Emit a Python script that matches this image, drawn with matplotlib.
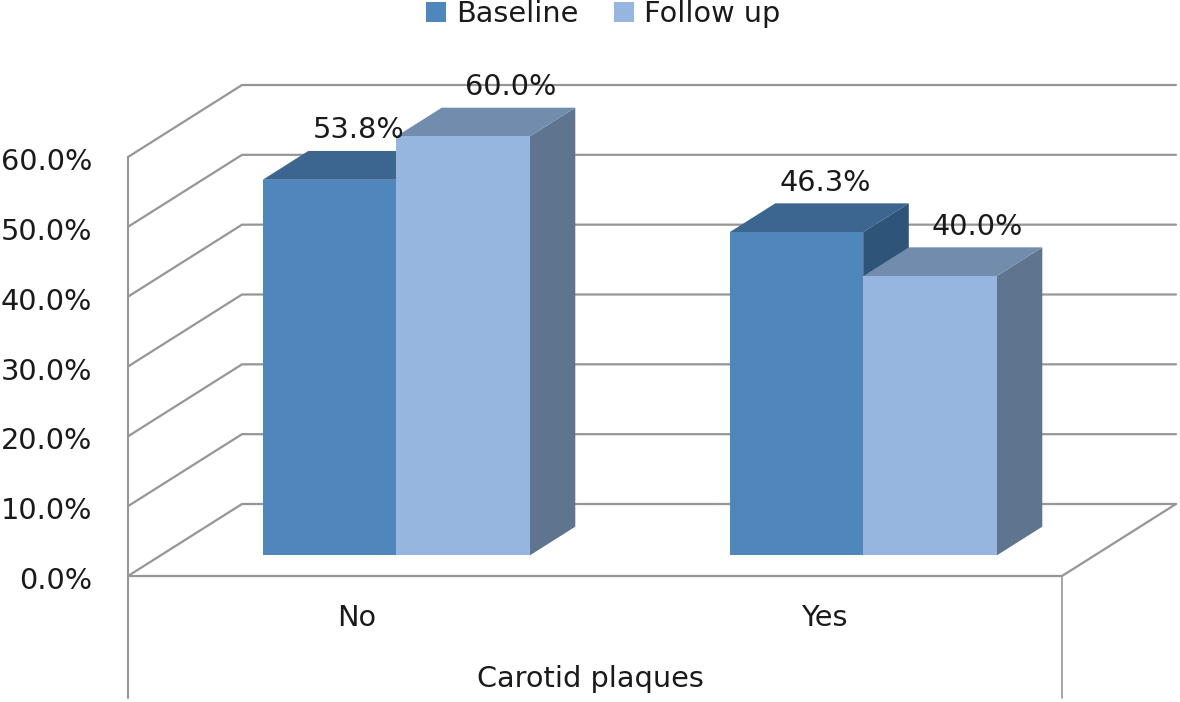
import matplotlib
matplotlib.use("Agg")
import matplotlib.pyplot as plt
from matplotlib.patches import Polygon, Patch
from matplotlib.transforms import ScaledTranslation

categories = ["No", "Yes"]
series_names = ["Baseline", "Follow up"]
baseline = [53.8, 46.3]
follow_up = [60.0, 40.0]
y_ticks = [0, 10, 20, 30, 40, 50, 60]
x_label = "Carotid plaques"

W, H = 1180, 702
GRID = "#969696"
TXT = "#1a1a1a"
FS = 20.7

# plot box in pixels
L, R, T, B = 128, 1062, 157, 576
fig = plt.figure(figsize=(W / 100, H / 100), dpi=100)
ax = fig.add_axes([L / W, 1 - B / H, (R - L) / W, (B - T) / H])
ax.set_xlim(-0.5, 1.5)
ax.set_ylim(0, 60)
for s in ax.spines.values():
    s.set_visible(False)
ax.patch.set_visible(False)

ux = (R - L) / 2          # px per category
uy = (B - T) / 60         # px per percent
DX = 114 / ux             # wall depth in data units
DY = 72 / uy
BAR_W = 133.5 / ux
BAR_SHIFT = 2.2 / ux
DEPTH_START = 0.285
DEPTH = 0.40

def line(xs, ys, lw=1.6, z=1):
    ax.plot(xs, ys, color=GRID, lw=lw, clip_on=False, zorder=z, solid_capstyle="round")

# walls and gridlines
for v in y_ticks:
    line([-0.5, -0.5 + DX, 1.5 + DX], [v, v + DY, v + DY])
line([-0.5, 1.5, 1.5 + DX], [0, 0, DY])
ext = -(698 - B) / uy
line([-0.5, -0.5], [ext, 60], lw=1.5)
line([1.5, 1.5], [ext, 0], lw=1.2)

def bar3d(x0, v, front, top, side, z):
    bx = DEPTH_START * DX
    by = DEPTH_START * DY
    dx = DEPTH * DX
    dy = DEPTH * DY
    x1 = x0 + BAR_W
    y0 = by
    y1 = by + v
    x0b, x1b = x0 + bx, x1 + bx
    ax.add_patch(Polygon([(x1b, y0), (x1b + dx, y0 + dy), (x1b + dx, y1 + dy), (x1b, y1)],
                         fc=side, ec="none", clip_on=False, zorder=z))
    ax.add_patch(Polygon([(x0b, y1), (x1b, y1), (x1b + dx, y1 + dy), (x0b + dx, y1 + dy)],
                         fc=top, ec="none", clip_on=False, zorder=z))
    ax.add_patch(Polygon([(x0b, y0), (x1b, y0), (x1b, y1), (x0b, y1)],
                         fc=front, ec="none", clip_on=False, zorder=z + 0.1))
    return x0b + BAR_W / 2 + dx / 2, y1 + dy / 2

styles = [("#4F86BC", "#3C668F", "#2E5478", 6), ("#97B6DF", "#718CAC", "#5F758F", 25)]
for i in range(len(categories)):
    for j, vals in enumerate([baseline, follow_up]):
        front, top, side, off = styles[j]
        x0 = i - BAR_W + j * BAR_W + BAR_SHIFT
        cx, cy = bar3d(x0, vals[i], front, top, side, 3 + j)
        ax.annotate(f"{vals[i]:.1f}%", (cx, cy), xytext=(off * 0.72, 35 * 0.72),
                    textcoords="offset points", ha="center", va="center",
                    fontsize=FS, color=TXT, zorder=10, annotation_clip=False)

ax.set_yticks(y_ticks)
ax.set_yticklabels([f"{v:.1f}%" for v in y_ticks], fontsize=FS, color=TXT)
ax.set_xticks(range(len(categories)))
ax.set_xticklabels(categories, fontsize=FS, color=TXT)
ax.tick_params(axis="y", length=0, pad=26)
ax.tick_params(axis="x", length=0, pad=20)
ax.set_xlabel(x_label, fontsize=FS, color=TXT, labelpad=24)

def nudge(t, px, py):
    t.set_transform(t.get_transform() + ScaledTranslation(px / 100, py / 100, fig.dpi_scale_trans))

for t in ax.get_yticklabels():
    nudge(t, 0, -2)
for t in ax.get_xticklabels():
    nudge(t, -4.5, 0)
ax.xaxis.label.set_x(0.5 - 5 / (R - L))

handles = [Patch(fc=styles[k][0], ec="none") for k in range(2)]
fig.legend(handles, series_names, loc="upper left", bbox_to_anchor=(426 / W, 1 - 0 / H),
           ncol=2, frameon=False, fontsize=FS, labelcolor=TXT, borderpad=0, borderaxespad=0,
           handlelength=0.69, handleheight=0.7, handletextpad=0.35, columnspacing=1.25)

fig.savefig("out.png", dpi=100)
